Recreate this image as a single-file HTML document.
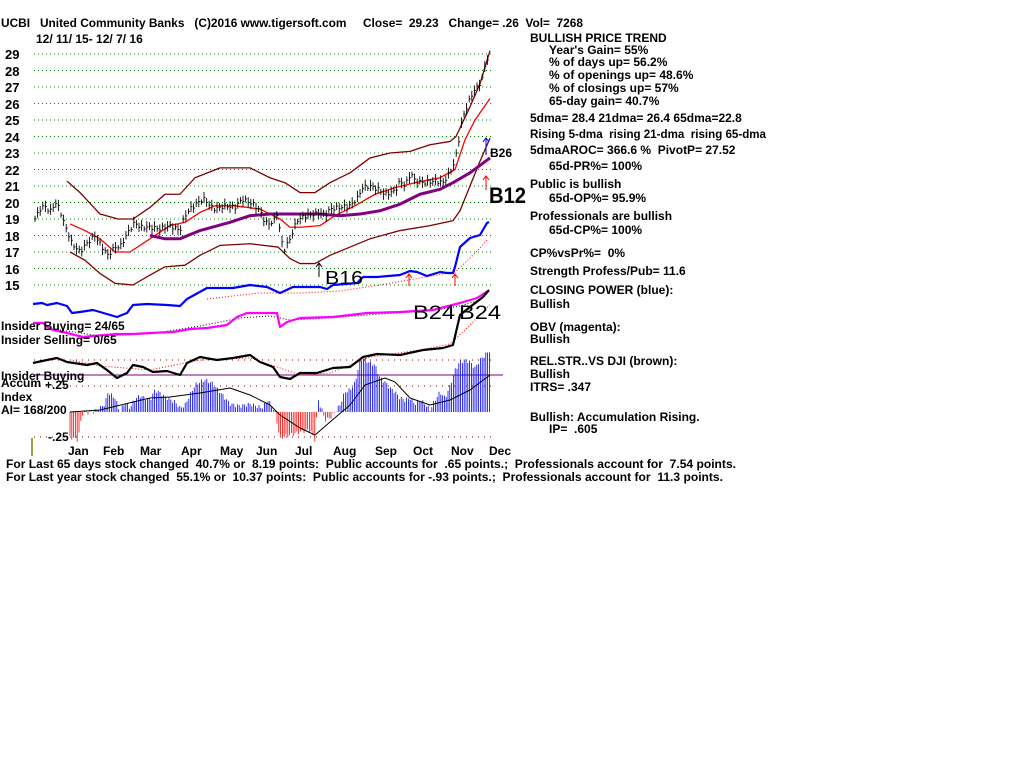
<!DOCTYPE html>
<html><head><meta charset="utf-8"><style>
html,body{margin:0;padding:0;background:#fff;width:1024px;height:768px;overflow:hidden}
svg{display:block}
text{font-family:"Liberation Sans",sans-serif;font-weight:bold;fill:#000;white-space:pre}
</style></head><body>
<svg id="s" width="1024" height="768" viewBox="0 0 1024 768" xml:space="preserve" font-size="12">
<g id="grid"></g>
<g id="g"></g>
<text x="1" y="27" textLength="582" lengthAdjust="spacingAndGlyphs">UCBI   United Community Banks   (C)2016 www.tigersoft.com     Close=  29.23   Change= .26  Vol=  7268</text>
<text x="36" y="43">12/ 11/ 15- 12/ 7/ 16</text>
<g font-size="13">
<text x="5" y="59">29</text><text x="5" y="76">28</text><text x="5" y="92">27</text><text x="5" y="109">26</text><text x="5" y="125">25</text><text x="5" y="142">24</text><text x="5" y="158">23</text><text x="5" y="175">22</text><text x="5" y="191">21</text><text x="5" y="208">20</text><text x="5" y="224">19</text><text x="5" y="241">18</text><text x="5" y="257">17</text><text x="5" y="274">16</text><text x="5" y="290">15</text>
</g>
<text x="490" y="157">B26</text>
<text x="489" y="203" style="font-size:22px" textLength="37" lengthAdjust="spacingAndGlyphs">B12</text>
<text x="325" y="284" style="font-size:18px;font-weight:normal" textLength="38" lengthAdjust="spacingAndGlyphs">B16</text>
<text x="413" y="319" style="font-size:19px;font-weight:normal" textLength="42" lengthAdjust="spacingAndGlyphs">B24</text>
<text x="459" y="319" style="font-size:19px;font-weight:normal" textLength="42" lengthAdjust="spacingAndGlyphs">B24</text>
<text x="1" y="330">Insider Buying= 24/65</text>
<text x="1" y="344">Insider Selling= 0/65</text>
<text x="1" y="380">Insider Buying</text>
<text x="1" y="387">Accum</text>
<text x="45" y="389">+.25</text>
<text x="1" y="401">Index</text>
<text x="1" y="414">AI= 168/200</text>
<text x="48" y="441">-.25</text>
<g>
<text x="68" y="455">Jan</text><text x="103" y="455">Feb</text><text x="140" y="455">Mar</text><text x="181" y="455">Apr</text><text x="220" y="455">May</text><text x="256" y="455">Jun</text><text x="295" y="455">Jul</text><text x="333" y="455">Aug</text><text x="375" y="455">Sep</text><text x="413" y="455">Oct</text><text x="451" y="455">Nov</text><text x="489" y="455">Dec</text>
</g>
<text x="6" y="468" textLength="730" lengthAdjust="spacingAndGlyphs">For Last 65 days stock changed  40.7% or  8.19 points:  Public accounts for  .65 points.;  Professionals account for  7.54 points.</text>
<text x="6" y="481" textLength="717" lengthAdjust="spacingAndGlyphs">For Last year stock changed  55.1% or  10.37 points:  Public accounts for -.93 points.;  Professionals account for  11.3 points.</text>
<g>
<text x="530" y="42">BULLISH PRICE TREND</text>
<text x="549" y="54">Year's Gain= 55%</text>
<text x="549" y="66">% of days up= 56.2%</text>
<text x="549" y="79">% of openings up= 48.6%</text>
<text x="549" y="92">% of closings up= 57%</text>
<text x="549" y="105">65-day gain= 40.7%</text>
<text x="530" y="122">5dma= 28.4 21dma= 26.4 65dma=22.8</text>
<text x="530" y="138" textLength="236" lengthAdjust="spacingAndGlyphs">Rising 5-dma  rising 21-dma  rising 65-dma</text>
<text x="530" y="154">5dmaAROC= 366.6 %  PivotP= 27.52</text>
<text x="549" y="170">65d-PR%= 100%</text>
<text x="530" y="188">Public is bullish</text>
<text x="549" y="202">65d-OP%= 95.9%</text>
<text x="530" y="220">Professionals are bullish</text>
<text x="549" y="234">65d-CP%= 100%</text>
<text x="530" y="257">CP%vsPr%=  0%</text>
<text x="530" y="275">Strength Profess/Pub= 11.6</text>
<text x="530" y="294">CLOSING POWER (blue):</text>
<text x="530" y="308">Bullish</text>
<text x="530" y="331">OBV (magenta):</text>
<text x="530" y="343">Bullish</text>
<text x="530" y="365">REL.STR..VS DJI (brown):</text>
<text x="530" y="378">Bullish</text>
<text x="530" y="391">ITRS= .347</text>
<text x="530" y="421">Bullish: Accumulation Rising.</text>
<text x="549" y="433">IP=  .605</text>
</g>
</svg>
<script>
var NS="http://www.w3.org/2000/svg",G=document.getElementById('g'),GR=document.getElementById('grid');
function el(t,a,p){var e=document.createElementNS(NS,t);for(var k in a)e.setAttribute(k,a[k]);(p||G).appendChild(e);return e;}
function py(p){return 285-(p-15)*16.5;}
function pl(pts,st,w,d){el('polyline',{points:pts.map(function(q){return q[0]+','+q[1]}).join(' '),fill:'none',stroke:st,'stroke-width':w,'stroke-dasharray':d||'none','stroke-linejoin':'round'});}
function pp(a){return a.map(function(q){return [q[0],py(q[1])]});}
function interp(a,x){for(var i=1;i<a.length;i++){if(x<=a[i][0]){var t=(x-a[i-1][0])/(a[i][0]-a[i-1][0]);return a[i-1][1]+t*(a[i][1]-a[i-1][1]);}}return a[a.length-1][1];}
for(var p=15;p<=29;p++)el('line',{x1:34,x2:492,y1:py(p),y2:py(p),stroke:'#008000','stroke-dasharray':'1,3'},GR);
pl(pp([[67,21.3],[80,20.6],[100,19.3],[118,19],[133,19],[150,19.7],[165,20.5],[180,20.5],[195,21.5],[220,22.1],[250,22.1],[270,21.5],[285,21.2],[300,20.6],[315,20.6],[330,21.2],[350,21.8],[370,22.7],[390,23],[410,23.1],[430,23.5],[450,23.7],[456,24],[470,25.8],[480,27.2],[490,29.2]]),'#800000',1.3);
pl(pp([[70,17],[85,16.5],[100,15.7],[115,15.1],[133,15],[150,15.6],[165,16.1],[185,16.2],[200,16.8],[220,17.4],[250,17.5],[278,17.3],[290,16.6],[300,16.3],[315,16.3],[330,16.8],[350,17.3],[370,17.8],[400,18.3],[430,18.6],[453,18.9],[460,19.5],[470,21],[480,22.5],[490,23.9]]),'#800000',1.3);
pl(pp([[70,18.7],[85,18.3],[100,17.8],[115,17],[130,17],[150,17.8],[170,18.6],[185,18.8],[200,19.4],[215,19.8],[235,19.8],[260,19.6],[280,19],[290,18.5],[300,18.5],[320,18.6],[335,19.2],[355,19.8],[375,20.5],[395,20.9],[415,21.2],[440,21.5],[455,22],[465,23.8],[475,25],[490,26.3]]),'#ff0000',1.3);
pl(pp([[150,18],[165,17.8],[180,17.8],[200,18.3],[230,18.8],[250,19.2],[270,19.3],[300,19.3],[320,19.3],[340,19.2],[360,19.3],[380,19.5],[400,19.9],[420,20.5],[440,20.8],[453,21.2],[470,21.8],[490,22.7]]),'#800080',3);
var P=[[35,19],[40,19.6],[45,19.8],[50,19.4],[55,20],[60,19.6],[62,19.1],[67,18.3],[72,17.5],[80,17],[85,17.4],[95,18],[100,17.5],[108,16.8],[115,17.3],[120,17.3],[128,18.2],[135,18.8],[140,18.5],[150,18.5],[160,18.4],[170,18.6],[180,18.3],[185,19.2],[190,19.6],[200,20.1],[205,20.2],[210,19.8],[215,19.6],[225,19.8],[235,19.7],[242,20.2],[250,20],[255,19.8],[260,19.5],[265,18.8],[270,18.7],[275,19],[278,19.5],[280,18],[284,17.1],[290,17.8],[297,18.9],[305,19.2],[315,19.3],[320,19.4],[325,19.2],[330,19.6],[340,19.7],[350,19.8],[358,20.3],[362,20.9],[370,21],[378,20.8],[385,20.5],[395,20.7],[400,21.3],[405,21],[411,21.8],[415,21.3],[425,21.2],[435,21.3],[443,21.2],[450,21.8],[455,22.5],[458,23.5],[462,25],[468,26],[474,26.8],[478,27],[482,27.5],[486,28.5],[490,29.2]];
for(var x=35;x<=490;x+=2.6){var c=interp(P,x)+Math.sin(x*0.9)*0.12,r=0.15+0.2*Math.abs(Math.sin(x*1.7));var y=py(c);
el('line',{x1:x,x2:x,y1:py(c+r),y2:py(c-r),stroke:'#000','stroke-width':0.9});el('line',{x1:x,x2:x+1.5,y1:y,y2:y,stroke:'#000','stroke-width':0.9});}
function arr(x,y1,y2,c){el('line',{x1:x,x2:x,y1:y1,y2:y2,stroke:c});el('polyline',{points:(x-3)+','+(y2+4)+' '+x+','+y2+' '+(x+3)+','+(y2+4),fill:'none',stroke:c});}
arr(486,155,138,'#0000ff');arr(486,190,176,'#ff0000');arr(319,277,263,'#000');arr(409,286,274,'#ff0000');arr(455,286,274,'#ff0000');
pl([[207,299],[233,296],[260,293],[300,293],[340,291],[380,285],[420,278],[455,272],[470,258],[480,248],[487,240]],'#ff0000',1,'1,2');
pl([[33,304],[42,303],[47,305],[57,303],[67,306],[72,313],[80,312],[93,310],[100,312],[117,317],[127,313],[133,305],[147,304],[167,305],[180,306],[187,299],[207,288],[233,288],[250,285],[267,287],[280,293],[293,287],[320,287],[327,289],[333,285],[357,283],[363,277],[377,277],[400,275],[410,271],[417,272],[427,276],[440,272],[447,273],[453,273],[455,267],[460,247],[470,238],[480,235],[487,223],[489,222]],'#0000ff',2.2);
pl([[60,330],[100,336],[150,334],[200,326],[240,318],[270,316],[290,320],[330,318],[380,314],[430,311],[460,306],[480,300],[488,293]],'#000',1,'1,2');
pl([[33,323],[43,323],[50,329],[67,333],[83,337],[93,336],[117,334],[133,334],[150,333],[173,332],[190,329],[207,328],[227,325],[237,317],[247,313],[267,313],[277,313],[280,327],[287,322],[300,318],[333,317],[367,313],[400,312],[433,310],[460,303],[477,298],[488,291]],'#ff00ff',2.2);
el('line',{x1:34,x2:492,y1:360,y2:360,stroke:'#800000','stroke-dasharray':'1,5'});
el('line',{x1:34,x2:492,y1:386,y2:386,stroke:'#800000','stroke-dasharray':'1,5'});
el('line',{x1:34,x2:492,y1:437,y2:437,stroke:'#800000','stroke-dasharray':'1,5'});
el('line',{x1:34,x2:503,y1:375,y2:375,stroke:'#800080','stroke-width':1});
pl([[70,360],[100,366],[150,370],[200,360],[250,358],[280,368],[300,375],[330,373],[370,357],[420,350],[450,344],[465,330],[480,315],[490,305]],'#ff0000',1,'1,2');
pl([[33,363],[47,360],[57,358],[67,362],[87,365],[97,363],[107,370],[117,378],[127,373],[133,365],[143,367],[153,372],[167,371],[180,375],[187,363],[200,357],[217,360],[233,358],[250,355],[260,362],[273,367],[280,377],[290,379],[300,373],[317,373],[333,368],[350,367],[363,357],[377,354],[400,355],[423,350],[443,348],[453,345],[460,315],[470,307],[483,297],[489,290]],'#000',2.2);
var A=[[70,437],[78,440],[82,414],[85,412],[90,413],[95,411],[100,408],[105,404],[108,392],[112,396],[115,398],[120,412],[125,402],[130,408],[135,399],[140,396],[150,400],[155,390],[160,393],[165,397],[175,402],[180,408],[185,405],[195,385],[200,382],[205,380],[212,383],[220,392],[230,404],[240,406],[250,404],[262,408],[268,400],[275,412],[280,438],[290,435],[300,432],[310,430],[315,440],[318,400],[322,410],[325,420],[330,418],[335,412],[340,405],[345,392],[350,390],[355,383],[360,360],[363,358],[368,362],[375,365],[380,378],[385,382],[390,388],[395,392],[400,398],[405,400],[410,398],[415,404],[420,400],[425,404],[430,410],[435,400],[440,392],[445,398],[450,386],[455,370],[460,362],[465,360],[470,362],[475,368],[480,360],[485,355],[490,350]];
for(var x=70;x<=490;x+=1.8){var v=interp(A,x)+Math.sin(x*2.3)*2;el('line',{x1:x,x2:x,y1:412,y2:v,stroke:v>412?'#ff0000':'#0000ff','stroke-width':0.8});}
pl([[70,412],[100,410],[150,398],[170,397],[200,393],[230,388],[250,395],[270,405],[280,415],[300,428],[315,435],[330,422],[350,405],[365,385],[385,378],[395,382],[410,398],[430,405],[450,400],[470,390],[490,375]],'#000',1);
el('line',{x1:32,x2:32,y1:438,y2:456,stroke:'#808000','stroke-width':1.5});
</script>
</body></html>
